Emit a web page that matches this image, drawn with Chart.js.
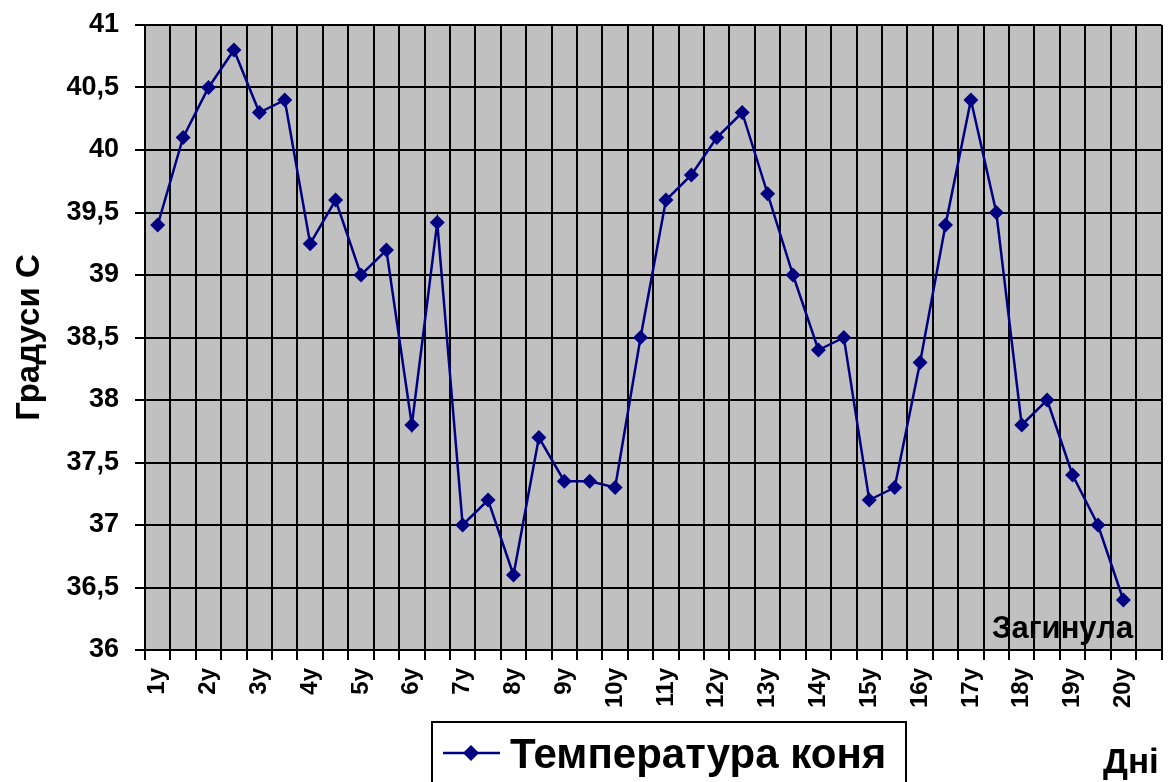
<!DOCTYPE html>
<html>
<head>
<meta charset="utf-8">
<script src="https://cdn.jsdelivr.net/npm/chart.js@4/dist/chart.umd.min.js"></script>
<style>
    html, body { margin: 0; padding: 0; background: #fff; }
    #chart { display: block; }
</style>
</head>
<body>
<canvas id="chart" width="1169" height="782"></canvas>
<script>
// chart data
const dayLabels = ['1у', '', '2у', '', '3у', '', '4у', '', '5у', '', '6у', '', '7у', '', '8у', '', '9у', '', '10у', '',
    '11у', '', '12у', '', '13у', '', '14у', '', '15у', '', '16у', '', '17у', '', '18у', '', '19у', '', '20у', ''];
const horseTemp = [39.4, 40.1, 40.5, 40.8, 40.3, 40.4, 39.25, 39.6, 39.0, 39.2, 37.8, 39.42, 37.0, 37.2, 36.6, 37.7,
    37.35, 37.35, 37.3, 38.5, 39.6, 39.8, 40.1, 40.3, 39.65, 39.0, 38.4, 38.5, 37.2, 37.3, 38.3, 39.4, 40.4, 39.5,
    37.8, 38.0, 37.4, 37.0, 36.4, null];
const seriesName = 'Температура коня';
const yTitle = 'Градуси С';
const xTitle = 'Дні';
const deathNote = 'Загинула';

const FONT = '"Liberation Sans", Arial, sans-serif';
const NAVY = '#000080';

// grey plot background + extra texts + legend box
const decorPlugin = {
    id: 'decor',
    beforeDraw(chart) {
        const { ctx, chartArea: a } = chart;
        ctx.save();
        ctx.fillStyle = '#fff';
        ctx.fillRect(0, 0, chart.width, chart.height);
        ctx.fillStyle = '#c0c0c0';
        ctx.fillRect(a.left, a.top, a.right - a.left, a.bottom - a.top);
        ctx.restore();
    },
    afterDraw(chart) {
        const ctx = chart.ctx;
        ctx.save();
        ctx.fillStyle = '#000';
        ctx.textBaseline = 'alphabetic';
        ctx.textAlign = 'left';

        ctx.font = 'bold 31px ' + FONT;
        ctx.fillText(deathNote, 992, 638);

        ctx.font = 'bold 35px ' + FONT;
        ctx.fillText(xTitle, 1103, 773);

        // legend
        ctx.strokeStyle = '#000';
        ctx.lineWidth = 2;
        ctx.strokeRect(432, 722, 474, 80);
        ctx.strokeStyle = NAVY;
        ctx.lineWidth = 2.5;
        ctx.beginPath();
        ctx.moveTo(443, 753);
        ctx.lineTo(500, 753);
        ctx.stroke();
        ctx.fillStyle = NAVY;
        ctx.beginPath();
        ctx.moveTo(471, 745);
        ctx.lineTo(479, 753);
        ctx.lineTo(471, 761);
        ctx.lineTo(463, 753);
        ctx.closePath();
        ctx.fill();
        ctx.fillStyle = '#000';
        ctx.font = 'bold 42px ' + FONT;
        ctx.fillText(seriesName, 510, 768);
        ctx.restore();
    }
};

new Chart(document.getElementById('chart'), {
    type: 'line',
    data: {
        labels: dayLabels,
        datasets: [{
            label: seriesName,
            data: horseTemp,
            borderColor: NAVY,
            backgroundColor: NAVY,
            borderWidth: 2.5,
            pointStyle: 'rectRot',
            pointRadius: 7.5,
            pointHoverRadius: 7.5,
            pointBorderWidth: 0,
            tension: 0,
            spanGaps: false
        }]
    },
    options: {
        responsive: false,
        animation: false,
        devicePixelRatio: 1,
        layout: { padding: { top: 25, right: 4, left: 0, bottom: 0 } },
        plugins: {
            legend: { display: false },
            tooltip: { enabled: false }
        },
        scales: {
            x: {
                type: 'category',
                offset: true,
                grid: { offset: true, color: '#000', lineWidth: 2, tickLength: 10, tickColor: '#000', tickWidth: 2 },
                border: { color: '#000', width: 2 },
                ticks: {
                    autoSkip: false,
                    maxRotation: 90,
                    minRotation: 90,
                    padding: 8,
                    color: '#000',
                    font: { family: FONT, size: 24, weight: 'bold' }
                },
                afterFit(scale) {
                    scale.height = 132;
                    scale.paddingLeft = 0;
                    scale.paddingRight = 0;
                }
            },
            y: {
                min: 36,
                max: 41,
                grid: { color: '#000', lineWidth: 2, tickLength: 10, tickColor: '#000', tickWidth: 2 },
                border: { color: '#000', width: 2 },
                ticks: {
                    stepSize: 0.5,
                    padding: 16,
                    color: '#000',
                    font: { family: FONT, size: 27, weight: 'bold' },
                    callback: (v) => String(v).replace('.', ',')
                },
                title: {
                    display: true,
                    text: yTitle,
                    color: '#000',
                    font: { family: FONT, size: 33, weight: 'bold' },
                    padding: { top: 10, bottom: 0 }
                },
                afterFit(scale) {
                    scale.width = 145;
                    scale.paddingTop = 0;
                    scale.paddingBottom = 0;
                }
            }
        }
    },
    plugins: [decorPlugin]
});
</script>
</body>
</html>
